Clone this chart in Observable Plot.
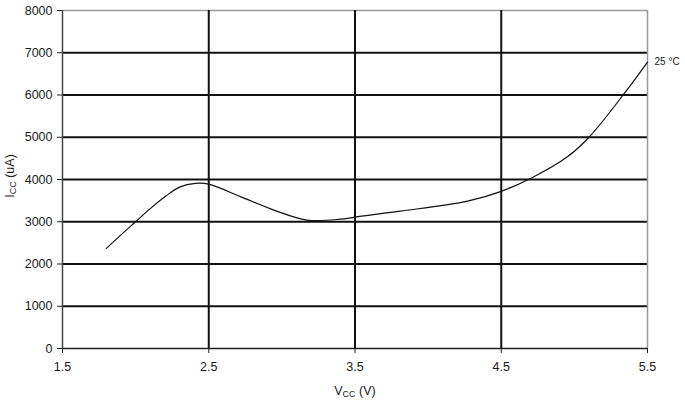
<!DOCTYPE html>
<html>
<head>
<meta charset="utf-8">
<script src="https://cdn.jsdelivr.net/npm/d3@7"></script>
<script src="https://cdn.jsdelivr.net/npm/@observablehq/plot@0.6"></script>
<style>
  html, body { margin: 0; padding: 0; background: #fff; }
  svg { font-family: "Liberation Sans", Arial, Helvetica, sans-serif; }
</style>
</head>
<body>
<div id="chart"></div>
<script>
const vcc = [1.8, 1.9, 2.0, 2.1, 2.2, 2.3, 2.41, 2.5, 2.72, 2.95, 3.17, 3.4, 3.5, 3.81, 4.27, 4.5, 4.72, 4.95, 5.1, 5.34, 5.5];
const icc = [2370, 2690, 3000, 3310, 3590, 3820, 3910, 3890, 3590, 3270, 3040, 3060, 3110, 3250, 3490, 3720, 4060, 4530, 5000, 6030, 6780];
const xTicks = [1.5, 2.5, 3.5, 4.5, 5.5];
const yTicks = [0, 1000, 2000, 3000, 4000, 5000, 6000, 7000, 8000];
const seriesLabel = "25 °C";

const data = vcc.map((v, i) => ({v, i: icc[i]}));
const last = [data[data.length - 1]];

const plot = Plot.plot({
  width: 685,
  height: 401,
  marginLeft: 62,
  marginRight: 38,
  marginTop: 10,
  marginBottom: 53,
  style: {fontSize: "12.5px", color: "#1a1a1a", background: "#fff"},
  x: {domain: [1.5, 5.5]},
  y: {domain: [0, 8000]},
  marks: [
    Plot.ruleY(yTicks.filter(d => d > 0 && d < 8000), {stroke: "#111", strokeWidth: 2}),
    Plot.ruleY([8000], {stroke: "#999", strokeWidth: 1.5}),
    Plot.ruleX(xTicks.filter(d => d > 1.5 && d < 5.5), {stroke: "#111", strokeWidth: 2}),
    Plot.ruleX([5.5], {stroke: "#999", strokeWidth: 1.5}),
    Plot.ruleX([1.5], {stroke: "#444", strokeWidth: 1.5}),
    Plot.ruleY([0], {stroke: "#222", strokeWidth: 1.5}),
    Plot.axisX({ticks: xTicks, tickFormat: d => d.toFixed(1), tickSize: 5, tickPadding: 9, label: null, stroke: "#222"}),
    Plot.axisY({ticks: yTicks, tickFormat: d => String(d), tickSize: 5, tickPadding: 5, label: null, stroke: "#222"}),
    Plot.line(data, {x: "v", y: "i", curve: "catmull-rom", stroke: "#111", strokeWidth: 1.2}),
    Plot.text(last, {x: "v", y: "i", text: () => seriesLabel, dx: 7, dy: 0, textAnchor: "start", fontSize: 10, fill: "#1a1a1a"})
  ]
});

const svg = d3.select(plot);
// x axis title with subscript
const xt = svg.append("text")
  .attr("x", 355).attr("y", 395)
  .attr("text-anchor", "middle")
  .attr("font-size", 12.5).attr("fill", "#1a1a1a");
xt.append("tspan").text("V");
xt.append("tspan").attr("font-size", 9).attr("dy", 2).text("CC");
xt.append("tspan").attr("dy", -2).text(" (V)");

// y axis title with subscript
const yt = svg.append("text")
  .attr("transform", "translate(14,176) rotate(-90)")
  .attr("text-anchor", "middle")
  .attr("font-size", 12.5).attr("fill", "#1a1a1a");
yt.append("tspan").text("I");
yt.append("tspan").attr("font-size", 9).attr("dy", 2).text("CC");
yt.append("tspan").attr("dy", -2).text(" (uA)");

document.getElementById("chart").appendChild(plot);
</script>
</body>
</html>
